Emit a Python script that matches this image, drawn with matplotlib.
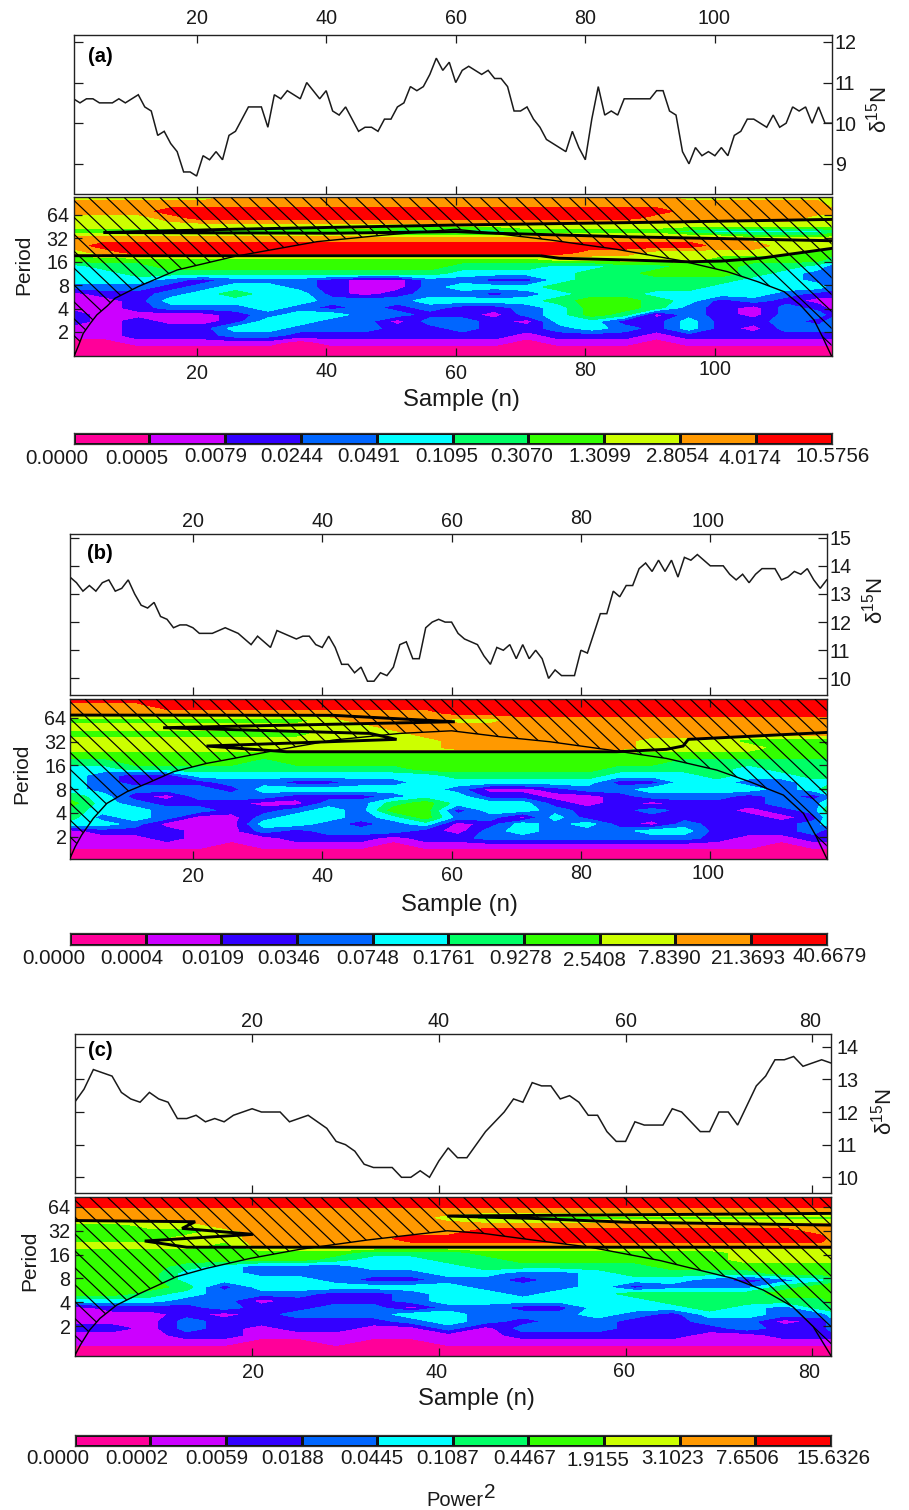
import numpy as np
import matplotlib
matplotlib.use("Agg")
import matplotlib.pyplot as plt
from matplotlib.collections import LineCollection
from matplotlib.patches import Polygon
from matplotlib.transforms import IdentityTransform, Affine2D

plt.rcParams['font.family'] = ['Liberation Sans', 'DejaVu Sans']
plt.rcParams['mathtext.default'] = 'regular'

W, H = 909, 1510

# ---------------------------------------------------------------- series
n15_a = [10.6,10.5,10.6,10.6,10.5,10.5,10.5,10.6,10.5,10.6,10.7,10.4,10.3,9.7,9.8,9.5,9.3,8.8,8.8,8.7,
         9.2,9.1,9.3,9.1,9.7,9.8,10.1,10.4,10.4,10.4,9.9,10.7,10.6,10.8,10.7,10.6,11.0,10.8,10.6,10.8,
         10.3,10.2,10.4,10.1,9.8,9.9,9.9,9.8,10.1,10.1,10.4,10.5,10.9,10.8,10.9,11.2,11.6,11.3,11.5,11.0,
         11.3,11.4,11.3,11.2,11.3,11.1,11.1,10.9,10.3,10.3,10.4,10.1,9.9,9.6,9.5,9.4,9.3,9.8,9.4,9.1,
         10.1,10.9,10.2,10.3,10.2,10.6,10.6,10.6,10.6,10.6,10.8,10.8,10.3,10.2,9.3,9.0,9.4,9.2,9.3,9.2,
         9.4,9.2,9.7,9.8,10.1,10.1,10.0,9.9,10.2,9.9,10.0,10.4,10.3,10.4,10.0,10.4,10.0,10.0]
n15_b = [13.6,13.4,13.1,13.3,13.1,13.4,13.5,13.1,13.2,13.5,13.0,12.6,12.5,12.7,12.2,12.1,11.8,11.9,11.9,11.8,
         11.6,11.6,11.6,11.7,11.8,11.7,11.6,11.4,11.2,11.5,11.3,11.1,11.7,11.6,11.5,11.4,11.5,11.5,11.2,11.1,
         11.5,11.1,10.5,10.5,10.2,10.4,9.9,9.9,10.2,10.1,10.4,11.2,11.3,10.7,10.7,11.8,12.0,12.1,12.0,12.0,
         11.6,11.4,11.3,11.2,10.8,10.5,11.1,11.0,11.2,10.7,11.2,10.7,11.0,10.7,10.0,10.3,10.1,10.1,10.1,11.0,
         10.9,11.6,12.3,12.3,13.1,12.9,13.3,13.3,13.9,14.1,13.8,14.2,13.8,14.2,13.6,14.3,14.2,14.4,14.2,14.0,
         14.0,14.0,13.7,13.5,13.7,13.4,13.7,13.9,13.9,13.9,13.5,13.6,13.8,13.7,13.9,13.5,13.2,13.5]
n15_c = [12.3,12.7,13.3,13.2,13.1,12.6,12.4,12.3,12.6,12.4,12.3,11.8,11.8,11.9,11.7,11.8,11.7,11.9,12.0,12.1,
         12.0,12.0,12.0,11.7,11.8,11.9,11.7,11.5,11.1,11.0,10.8,10.4,10.3,10.3,10.3,10.0,10.0,10.2,10.0,10.5,
         10.9,10.6,10.6,11.0,11.4,11.7,12.0,12.4,12.3,12.9,12.8,12.8,12.4,12.5,12.3,11.9,11.9,11.4,11.1,11.1,
         11.7,11.6,11.6,11.6,12.1,12.0,11.7,11.4,11.4,12.0,12.0,11.6,12.2,12.8,13.1,13.6,13.6,13.7,13.4,13.5,
         13.6,13.5]

# ---------------------------------------------------------------- wavelet power, as colour-class index
samples_ab = [1,6,11,16,21,26,31,36,41,46,51,56,61,66,71,76,81,86,91,96,101,106,111,116,118]
samples_c = [1,5,9,13,17,21,25,29,33,37,41,45,49,53,57,61,65,69,73,77,81,82]

log2p_a = [6.755,6.455,6.156,5.871,5.572,5.287,4.988,4.689,4.390,4.105,3.806,3.507,
           3.222,2.923,2.624,2.339,2.040,1.740,1.456,1.156,0.857,0.558,0.273,-0.026]
power_a = [
 [7,7,7,7,7,8,8,8,8,8,8,8,8,8,8,8,8,8,8,7,7,7,7,7,7],
 [8,8,8,8,8,8,8,8,8,8,8,8,8,8,8,8,8,8,8,8,8,8,8,8,7],
 [8,8,8,9,9,9,9,9,9,9,9,9,9,9,9,9,9,9,9,8,8,8,8,8,8],
 [7,7,7,8,9,9,9,9,9,9,9,9,9,9,9,9,9,9,8,8,8,8,8,7,7],
 [7,7,7,7,7,7,7,7,7,7,7,7,7,7,7,7,7,7,7,7,7,7,7,7,7],
 [6,6,6,6,6,6,6,6,6,6,5,5,5,5,6,6,6,6,6,5,4,4,4,4,5],
 [8,8,8,8,8,8,8,8,8,8,8,8,8,8,8,8,8,8,8,8,8,7,7,7,7],
 [8,9,9,9,9,9,9,9,9,9,9,9,9,9,9,9,9,9,9,9,8,8,7,7,7],
 [7,8,9,9,9,9,9,9,9,9,9,9,9,9,9,9,8,8,7,7,7,7,7,6,6],
 [6,6,6,6,6,6,6,6,6,6,6,6,6,6,6,7,7,7,7,7,6,6,6,6,5],
 [4,5,5,6,6,6,6,6,6,6,6,6,5,5,5,4,4,5,5,6,6,5,5,4,3],
 [4,4,5,5,5,5,5,5,5,5,5,5,4,4,4,4,5,5,6,6,6,5,4,3,3],
 [4,4,4,3,2,3,3,3,2,1,1,3,3,2,2,4,5,5,5,5,5,4,4,3,3],
 [3,3,3,2,3,4,4,3,2,1,1,3,4,4,4,5,5,5,5,5,4,4,4,4,3],
 [1,2,2,3,4,5,4,4,2,1,2,3,3,2,3,4,5,5,4,4,4,4,3,2,2],
 [1,1,2,4,4,4,4,4,3,3,3,4,4,4,4,5,6,6,5,4,2,3,2,1,1],
 [1,1,2,3,3,3,4,3,2,3,2,3,2,2,3,4,6,6,5,3,2,1,3,2,1],
 [2,1,1,1,1,2,3,4,4,3,3,2,2,1,3,4,6,5,1,3,2,1,3,3,2],
 [2,1,2,1,1,2,4,4,3,3,1,3,3,2,1,4,4,2,2,4,2,2,3,2,3],
 [1,1,2,2,2,4,4,3,3,3,2,2,3,2,2,3,4,3,2,4,2,1,3,3,3],
 [1,1,2,2,2,3,3,2,2,2,2,2,2,2,1,2,2,2,1,2,2,2,2,2,2],
 [0,0,1,1,1,1,1,0,1,1,1,1,1,1,0,1,1,1,0,1,1,1,1,1,1],
 [0,0,0,0,0,0,0,0,0,0,0,0,0,0,0,0,0,0,0,0,0,0,0,0,0],
 [0,0,0,0,0,0,0,0,0,0,0,0,0,0,0,0,0,0,0,0,0,0,0,0,0],
]

log2p_b = [6.786,6.492,6.198,5.903,5.623,5.329,5.035,4.741,4.447,4.153,3.859,3.579,
           3.284,2.990,2.696,2.402,2.108,1.814,1.534,1.240,0.946,0.651,0.357,0.063]
power_b = [
 [9,9,9,9,9,9,9,9,9,9,9,9,9,9,9,9,9,9,9,9,9,9,9,9,9],
 [8,8,8,9,9,9,9,9,9,9,9,9,9,9,9,9,9,9,9,9,9,9,9,9,9],
 [8,8,8,8,8,8,8,8,8,8,8,8,9,9,9,9,9,9,9,9,9,9,9,9,9],
 [6,6,6,6,6,6,6,6,7,8,8,8,7,7,8,8,8,8,8,8,8,8,8,8,8],
 [7,7,7,7,7,7,7,7,7,7,8,8,8,8,8,8,8,8,8,8,8,8,8,8,8],
 [6,6,6,6,6,6,6,6,7,7,7,8,8,8,8,8,8,8,8,8,8,8,8,8,8],
 [7,7,7,7,7,7,7,7,7,7,7,7,8,8,8,8,8,8,7,7,7,6,6,6,6],
 [7,7,7,7,7,7,7,7,7,7,7,7,8,8,8,8,8,8,7,7,7,7,6,6,6],
 [6,6,6,6,6,6,6,6,6,6,6,6,6,6,6,6,6,6,6,6,6,6,6,6,6],
 [5,5,6,6,6,6,5,6,6,6,6,6,6,6,6,6,6,6,6,5,5,5,5,5,5],
 [4,4,5,5,5,5,5,5,5,5,5,6,6,6,6,6,6,5,5,5,5,4,5,5,5],
 [4,3,2,2,4,4,4,4,4,4,4,4,5,5,5,5,5,4,4,4,5,4,4,5,5],
 [4,3,2,2,2,3,3,2,2,3,3,4,4,4,4,4,4,2,2,4,4,3,3,4,4],
 [4,3,3,3,3,2,4,4,4,4,4,4,3,1,1,2,3,3,4,4,4,4,3,4,5],
 [5,4,2,1,3,3,3,2,2,2,3,4,4,2,2,1,1,2,3,3,3,2,3,2,3],
 [6,4,3,2,2,2,1,1,3,3,5,6,4,4,4,2,1,2,1,2,2,2,3,3,4],
 [5,4,4,3,3,2,2,3,4,3,6,6,2,4,4,3,2,2,3,2,2,1,2,3,5],
 [5,3,4,3,1,1,3,4,4,3,4,6,3,3,1,4,2,2,2,2,2,2,1,2,4],
 [4,4,3,1,1,1,4,4,3,2,3,4,1,2,4,3,4,2,1,3,2,2,2,3,4],
 [1,2,2,2,1,1,3,2,3,3,3,2,1,3,4,3,3,3,4,4,2,2,2,3,2],
 [1,1,1,2,1,1,1,2,2,2,1,2,2,3,3,3,3,3,3,3,2,1,1,2,2],
 [1,1,1,1,1,0,1,1,1,1,0,1,1,1,1,1,1,1,1,1,1,1,0,1,1],
 [0,0,0,0,0,0,0,0,0,0,0,0,0,0,0,0,0,0,0,0,0,0,0,0,0],
 [0,0,0,0,0,0,0,0,0,0,0,0,0,0,0,0,0,0,0,0,0,0,0,0,0],
]

log2p_c = [6.406,6.112,5.832,5.538,5.243,4.963,4.669,4.375,4.095,3.801,3.507,3.227,
           2.932,2.638,2.358,2.064,1.770,1.490,1.196,0.902,0.622,0.327,0.033,-0.247]
power_c = [
 [9,9,9,9,9,9,9,9,9,9,9,9,9,9,9,9,9,9,9,9,9,9],
 [9,9,9,9,9,9,9,9,9,9,9,9,9,9,9,9,9,9,9,9,9,9],
 [8,8,8,8,8,8,8,8,8,8,8,8,8,8,8,8,8,8,8,8,8,8],
 [8,8,8,8,8,8,8,8,8,8,7,6,6,6,6,6,6,6,6,6,6,6],
 [6,6,7,7,8,8,8,8,8,8,8,8,8,8,8,8,8,8,8,8,8,8],
 [6,6,6,6,7,8,8,8,8,8,8,9,9,9,9,9,9,9,9,9,8,8],
 [6,6,6,7,7,8,8,8,8,9,9,9,9,9,9,9,9,9,9,9,9,8],
 [7,7,7,7,6,8,8,8,8,8,8,8,8,8,8,8,8,8,8,8,8,8],
 [6,6,6,6,6,6,6,6,5,5,5,6,6,6,6,6,6,6,7,7,7,7],
 [6,6,6,6,6,6,6,5,4,4,5,5,6,6,6,6,6,6,7,7,7,7],
 [6,6,6,5,4,3,3,3,4,4,4,5,5,5,5,5,6,6,6,6,6,6],
 [6,6,6,4,4,3,3,3,3,3,4,4,3,3,4,5,5,5,5,6,6,6],
 [6,6,6,4,4,4,4,3,2,2,3,3,2,3,4,4,4,3,2,3,4,5],
 [6,6,6,5,2,4,4,4,4,4,4,3,3,3,4,2,3,3,3,5,6,6],
 [6,6,5,4,3,3,3,2,2,3,4,4,3,4,4,5,5,5,5,6,6,6],
 [4,4,4,3,3,1,2,2,2,3,4,4,4,4,4,4,5,5,5,5,5,6],
 [1,2,2,2,3,2,2,3,3,1,3,3,2,2,4,4,4,5,4,3,5,5],
 [1,1,1,2,1,2,3,3,3,4,4,3,3,3,4,3,2,4,4,3,3,4],
 [1,1,1,3,2,2,2,2,2,3,4,3,2,3,3,2,2,3,3,1,2,3],
 [2,2,1,3,2,1,2,2,1,1,3,1,3,3,3,2,2,2,3,2,2,3],
 [1,1,1,2,2,1,1,1,1,1,1,1,2,2,2,2,2,1,1,2,2,2],
 [1,1,1,1,1,0,0,1,0,0,1,1,1,1,1,1,1,1,1,1,1,1],
 [0,0,0,0,0,0,0,0,0,0,0,0,0,0,0,0,0,0,0,0,0,0],
 [0,0,0,0,0,0,0,0,0,0,0,0,0,0,0,0,0,0,0,0,0,0],
]

# cone of influence (sample, log2 period)
coi_t_a = [1.1,1.8,2.5,3.6,4.6,6.2,7.4,11,17,25.7,29.9,38.6,48.9,60,65.8,74.6,84.9,94.7,101.9,106.6,110.7,113.2,115.3,116.6,118]
coi_y_a = [-0.03,0.44,0.94,1.37,1.73,2.11,2.44,2.94,3.65,4.22,4.43,4.86,5.14,5.39,5.22,4.93,4.53,4.05,3.58,3.15,2.72,2.15,1.51,0.8,-0.03]
coi_t_b = [1,1.8,2.8,4.6,6.7,9.8,12.9,17,22.1,26.3,33,41.7,52,60,67.5,75.2,84.5,93.2,101,106.1,111.3,114.4,116.4,118]
coi_y_b = [0.09,0.58,1.07,1.77,2.40,2.89,3.24,3.73,4.08,4.29,4.64,5.06,5.34,5.45,5.20,4.99,4.64,4.29,3.80,3.31,2.75,1.98,1.0,0.09]
coi_t_c = [1,1.6,2.6,3.7,5.5,8,11.9,15.1,19.8,25.1,32.3,40.9,44.75,50.1,56.2,63.7,71.5,74.75,77.9,80.1,82]
coi_y_c = [-0.25,0.2,0.83,1.32,1.88,2.37,3.07,3.42,3.84,4.22,4.61,5.0,4.89,4.61,4.31,3.75,3.0,2.51,1.81,0.97,-0.25]

# significance contours (sample, log2 period)
sig_a = [
 ([118,91,60,41,25.6,5.6,41,60,66,86,118], [5.81,5.69,5.57,5.47,5.39,5.25,5.22,5.29,5.22,5.07,4.90]),
 ([1,73,76,86,96,101,107,118], [4.26,4.26,4.15,4.08,4.0,4.03,4.15,4.57]),
]
sig_b = [
 ([1,41.7,60.5,15.4,47.4,51.5,22.1,34.5,85.5,93.2,95.8,96.6,118],
  [6.11,6.10,5.83,5.58,5.34,5.09,4.81,4.57,4.57,4.67,4.81,5.09,5.38]),
]
sig_c = [
 ([1,13.9,12.5,20.1,8.5,13.0,82], [5.43,5.38,5.10,4.85,4.57,4.31,4.31]),
 ([82,40.9,50,60,82], [5.73,5.62,5.52,5.36,5.24]),
]

# colour-bar breaks
breaks_a = ['0.0000','0.0005','0.0079','0.0244','0.0491','0.1095','0.3070','1.3099','2.8054','4.0174','10.5756']
breaks_b = ['0.0000','0.0004','0.0109','0.0346','0.0748','0.1761','0.9278','2.5408','7.8390','21.3693','40.6679']
breaks_c = ['0.0000','0.0002','0.0059','0.0188','0.0445','0.1087','0.4467','1.9155','3.1023','7.6506','15.6326']
class_colors = ['#FF0099','#CC00FF','#3300FF','#0066FF','#00FFFF','#00FF66','#33FF00','#CCFF00','#FF9900','#FF0000']

sample_ticks_ab = [20,40,60,80,100]
sample_ticks_c = [20,40,60,80]
period_labels = ['2','4','8','16','32','64']
period_ticks = [1,2,3,4,5,6]

panels = [
 dict(tag='(a)', series=n15_a, yticks=[9,10,11,12], ylim=(8.27,12.17), tmax=118, cols=samples_ab,
      rows=log2p_a, power=power_a, coi=(coi_t_a,coi_y_a), sig=sig_a, breaks=breaks_a, ticks=sample_ticks_ab,
      L=73.5,R=831.5,lt=35,lb=193.5,wt=197.3,wb=356,ct=432.7,cb=444,
      tagxy=(100,56.5), perxy=(24,265), samxy=(461,400.5), dxy=(879,110),
      toppad=5, botpad=5.5, rpad=2.5, lpad=3.5,
      bot_nudge=[(0,0),(0,-1.5),(0,0),(0,-2.5),(0,-4)], top_nudge=[(0,0),(0,0),(0,0),(0,0),(-1,0)],
      lx=[57,137,216,292,369,447,522,600,677,750,833], ly=[458,458,456.7,456.7,456.7,456.7,456.7,457,456,458,457]),
 dict(tag='(b)', series=n15_b, yticks=[10,11,12,13,14,15], ylim=(9.41,15.12), tmax=118, cols=samples_ab,
      rows=log2p_b, power=power_b, coi=(coi_t_b,coi_y_b), sig=sig_b, breaks=breaks_b, ticks=sample_ticks_ab,
      L=70,R=826.7,lt=534.3,lb=695,wt=699,wb=859,ct=933,cb=944.7,
      tagxy=(100,553.5), perxy=(22,774), samxy=(459,905), dxy=(875,601),
      toppad=2.2, botpad=5.5, rpad=2, lpad=2.5,
      bot_nudge=[(0,0),(0,0),(0,-1),(0,-3),(-2,-3)], top_nudge=[(0,0),(0,0),(0,0),(0,-3),(-2,0)],
      lx=[54,132,213,289,368,444,521,594,669,748,830], ly=[959,959,959,959,959,959,959,960,959,958,957]),
 dict(tag='(c)', series=n15_c, yticks=[10,11,12,13,14], ylim=(9.51,14.38), tmax=82, cols=samples_c,
      rows=log2p_c, power=power_c, coi=(coi_t_c,coi_y_c), sig=sig_c, breaks=breaks_c, ticks=sample_ticks_c,
      L=74.7,R=831,lt=1034.3,lb=1193.3,wt=1197.3,wb=1355.7,ct=1435,cb=1445.7,
      tagxy=(100,1050), perxy=(30,1261), samxy=(476,1399), dxy=(884,1112),
      toppad=2.2, botpad=5.5, rpad=4, lpad=3,
      bot_nudge=[(1,0),(-2,0),(-2,-1),(-3,0)], top_nudge=[(0,0),(0,0),(0,0),(-2,0)],
      lx=[58,137,217,293,372,448,525,598,673,747,833], ly=[1459,1459,1459,1459,1459,1459,1459,1461,1459,1459,1458]),
]

TICK_FS, LABEL_FS, BAR_FS = 14.2, 17.2, 14.8
INK = '#1a1a1a'

fig = plt.figure(figsize=(W/100, H/100), dpi=100, facecolor='white')

def px_axes(L, R, top, bottom):
    return fig.add_axes([L/W, 1-bottom/H, (R-L)/W, (bottom-top)/H])

def ftext(x, y, s, **kw):
    kw.setdefault('ha', 'center'); kw.setdefault('va', 'center'); kw.setdefault('color', INK)
    fig.text(x/W, 1-y/H, s, **kw)

def nudge(labels, shifts):
    for lab, (dx, dy) in zip(labels, shifts):
        lab.set_transform(lab.get_transform() + Affine2D().translate(dx, -dy))

for p in panels:
    L, R = p['L'], p['R']
    # --- isotope series
    ax = px_axes(L, R, p['lt'], p['lb'])
    y = np.array(p['series'])
    ax.plot(np.arange(1, len(y)+1), y, color=INK, lw=1.1, solid_joinstyle='miter')
    ax.set_xlim(1, p['tmax']); ax.set_ylim(*p['ylim'])
    ax.set_xticks(p['ticks']); ax.set_yticks(p['yticks'])
    ax.tick_params(axis='x', which='both', direction='in', length=5.8, width=0.9, top=True, bottom=True,
                   labeltop=True, labelbottom=False, labelsize=TICK_FS, pad=p['toppad'], colors=INK)
    ax.tick_params(axis='y', which='both', direction='in', length=6.5, width=0.9, left=True, right=True,
                   labelleft=False, labelright=True, labelsize=TICK_FS, pad=p['rpad'], colors=INK)
    for s in ax.spines.values():
        s.set_linewidth(1.0); s.set_color('#222222')
    nudge([t.label2 for t in ax.xaxis.get_major_ticks()], p['top_nudge'])
    ftext(*p['tagxy'], p['tag'], fontsize=14.5, fontweight='bold', color='black')
    ftext(*p['dxy'], r'$\delta^{15}$N', fontsize=16, rotation=90)

    # --- wavelet power
    wx = px_axes(L, R, p['wt'], p['wb'])
    grid = np.array(p['power'], dtype=float) + 0.5
    wx.contourf(p['cols'], p['rows'], grid, levels=np.arange(0, 11), colors=class_colors, antialiased=False)
    wx.set_xlim(1, p['tmax']); wx.set_ylim(p['rows'][-1], p['rows'][0])
    wx.set_xticks(p['ticks']); wx.set_yticks(period_ticks); wx.set_yticklabels(period_labels)
    wx.tick_params(axis='x', direction='in', length=5.8, width=0.9, top=True, bottom=True,
                   labelsize=TICK_FS, pad=p['botpad'], colors=INK)
    wx.tick_params(axis='y', direction='in', length=5.8, width=0.9, left=True, right=True,
                   labelsize=TICK_FS, pad=p['lpad'], colors=INK)
    for s in wx.spines.values():
        s.set_linewidth(1.0); s.set_color('#222222')
    nudge([t.label1 for t in wx.xaxis.get_major_ticks()], p['bot_nudge'])

    # cone of influence + hatching outside it
    ct, cy = p['coi']
    wx.plot(ct, cy, color='black', lw=1.0, zorder=4, clip_on=True)
    ymax = p['rows'][0]
    poly = Polygon(list(zip(ct, cy)) + [(p['tmax'], ymax), (1, ymax)], closed=True, fc='none', ec='none')
    wx.add_patch(poly)
    spacing, slope = 17.8, 0.95
    segs = []
    span = 200
    for k in range(-12, 50):
        x0 = L + 15 + k*spacing
        y0 = H - p['wt']
        segs.append([(x0, y0), (x0 + span, y0 - span*slope)])
    lc = LineCollection(segs, colors='black', linewidths=0.85, transform=IdentityTransform(), zorder=3)
    wx.add_collection(lc, autolim=False)
    lc.set_clip_path(poly)

    # thick significance contours
    for st, sy in p['sig']:
        wx.plot(st, sy, color='black', lw=2.1, zorder=5, solid_joinstyle='miter')

    ftext(*p['perxy'], 'Period', fontsize=15, rotation=90)
    ftext(*p['samxy'], 'Sample (n)', fontsize=LABEL_FS)

    # --- colour key
    cx = px_axes(L, R, p['ct'], p['cb'])
    cx.pcolormesh(np.arange(11), [0, 1], [np.arange(10)], cmap=matplotlib.colors.ListedColormap(class_colors),
                  vmin=0, vmax=10, edgecolors='#111111', linewidth=0.9)
    cx.set_xlim(0, 10); cx.set_ylim(0, 1)
    cx.set_xticks([]); cx.set_yticks([])
    for s in cx.spines.values():
        s.set_linewidth(0.9); s.set_color('#333333')
    for lab, lx, ly in zip(p['breaks'], p['lx'], p['ly']):
        ftext(lx, ly, lab, fontsize=BAR_FS)

ftext(455, 1500, 'Power', fontsize=14.5)
ftext(490, 1492, '2', fontsize=15)

fig.savefig('out.png', dpi=100, facecolor='white')
